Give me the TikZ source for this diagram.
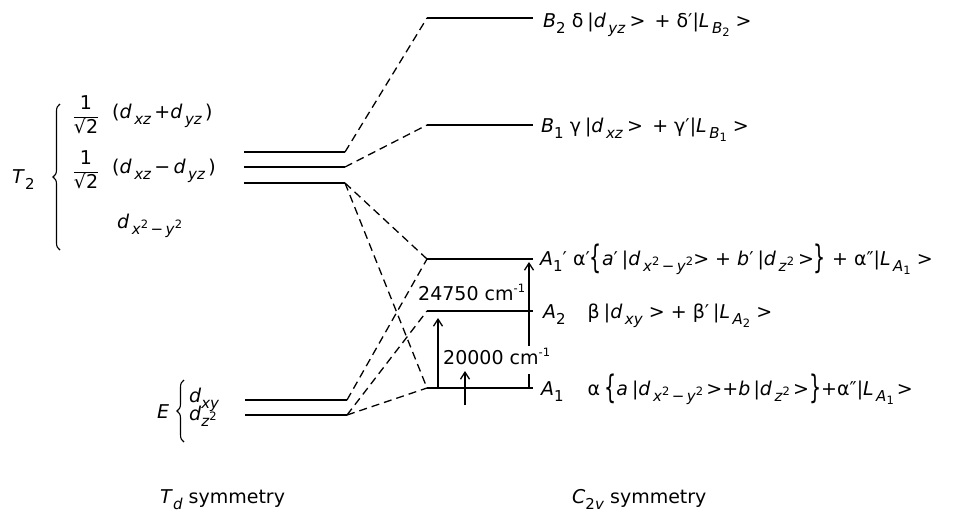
\documentclass[tikz,border=0pt]{standalone}
\usepackage{fontspec}
\setmainfont{DejaVu Sans}
\usepackage{graphicx}
\usetikzlibrary{decorations.pathreplacing,arrows.meta}
\newcommand{\lo}[1]{\raisebox{-0.6ex}{\fontsize{15}{15}\selectfont #1}}
\newcommand{\loo}[1]{\raisebox{-0.45ex}{\fontsize{11.5}{11.5}\selectfont #1}}
\newcommand{\hi}[1]{\raisebox{0.75ex}{\fontsize{11.5}{11.5}\selectfont #1}}
\newcommand{\bigbr}[1]{\raisebox{-0.3ex}{\scalebox{1}[1.7]{#1}}}
\newcommand{\frc}{$\displaystyle\frac{\mbox{1}}{\mbox{√2}}$}
\newcommand{\gp}{\hspace{4pt}}
\tikzset{
  lvl/.style={line width=1.5pt},
  cn/.style={line width=1.3pt, dash pattern=on 8pt off 5pt},
  ar/.style={line width=1.3pt, -{Straight Barb[length=7pt,width=9pt]}},
  txt/.style={font=\fontsize{19}{22}\selectfont, inner sep=0pt},
  lbl/.style={txt, anchor=base west},
  br/.style={line width=1.1pt, decorate, decoration={brace, amplitude=7pt}},
}
\begin{document}
\begin{tikzpicture}[x=1pt,y=-1pt]
\useasboundingbox (0,0) rectangle (967,517);
% T2 levels
\coordinate (t1l) at (244,152); \coordinate (t1r) at (345,152);
\coordinate (t2l) at (244,167); \coordinate (t2r) at (345,167);
\coordinate (t3l) at (244,183); \coordinate (t3r) at (345,183);
% E levels
\coordinate (e1l) at (245,400); \coordinate (e1r) at (347,400);
\coordinate (e2l) at (245,415); \coordinate (e2r) at (347,415);
% C2v levels
\coordinate (b2l) at (427,18);  \coordinate (b2r) at (533,18);
\coordinate (b1l) at (427,125); \coordinate (b1r) at (533,125);
\coordinate (apl) at (427,259); \coordinate (apr) at (533,259);
\coordinate (a2l) at (427,311); \coordinate (a2r) at (533,311);
\coordinate (a1l) at (427,388); \coordinate (a1r) at (533,388);
\foreach \a/\b in {t1l/t1r,t2l/t2r,t3l/t3r,e1l/e1r,e2l/e2r,b2l/b2r,b1l/b1r,apl/apr,a2l/a2r,a1l/a1r}
  \draw[lvl] (\a) -- (\b);
% correlation lines
\draw[cn] (t1r) -- (b2l);
\draw[cn] (t2r) -- (b1l);
\draw[cn] (t3r) -- (apl);
\draw[cn] (t3r) -- (a1l);
\draw[cn] (e1r) -- (apl);
\draw[cn] (e2r) -- (a2l);
\draw[cn] (e2r) -- (a1l);
% transitions
\coordinate (x1b) at (438,387); \coordinate (x1t) at (438,318);
\draw[ar] (x1b) -- (x1t);
\coordinate (x2b) at (465,405); \coordinate (x2t) at (465,371);
\draw[ar] (x2b) -- (x2t);
\coordinate (x3b) at (529,387); \coordinate (x3m) at (529,374);
\coordinate (x3n) at (529,346); \coordinate (x3t) at (529,262);
\draw[line width=1.3pt] (x3b) -- (x3m);
\draw[ar] (x3n) -- (x3t);
\node[lbl] (e24) at (418,300) {24750 cm\hi{-1}};
\node[lbl] (e20) at (443,364) {20000 cm\hi{-1}};
% left labels
\node[lbl] (T2) at (12,183) {\textit{T}\lo{2}};
\draw[br] (60,250) -- (60,104);
\node[txt] (f1) at (86,115) {\frc};
\node[txt] (f2) at (86,170) {\frc};
\node[lbl] (p1) at (112,118) {(\textit{d}\lo{\,\textit{xz}}\,+\textit{d}\lo{\,\textit{yz}}\,)};
\node[lbl] (p2) at (112,173) {(\textit{d}\lo{\,\textit{xz}}\,−\,\textit{d}\lo{\,\textit{yz}}\,)};
\node[lbl] (p3) at (117,228) {\textit{d}\lo{\,\textit{x}\hi{2}\,−\,\textit{y}\hi{2}}};
\node[lbl] (E) at (157,418) {\textit{E}};
\draw[br] (184,442) -- (184,380);
\node[lbl] (dxy) at (189,402) {\textit{d}\lo{\textit{xy}}};
\node[lbl] (dz) at (189,420) {\textit{d}\lo{\textit{z}\hi{2}}};
% right labels
\node[lbl] (LB2) at (543,27) {\textit{B}\lo{2} δ\gp|\textit{d}\lo{\,\textit{yz}}\gp > \,+ δ′|\textit{L}\lo{\,\textit{B}\loo{2}} >};
\node[lbl] (LB1) at (541,132) {\textit{B}\lo{1} γ\gp|\textit{d}\lo{\,\textit{xz}}\gp > \,+ γ′|\textit{L}\lo{\,\textit{B}\loo{1}} >};
\node[lbl] (LAp) at (540,265) {\textit{A}\lo{1}′ α′\bigbr{\{}\textit{a}′\gp |\textit{d}\lo{\,\textit{x}\hi{2}\,−\,\textit{y}\hi{2}}> + \textit{b}′\gp|\textit{d}\lo{\,\textit{z}\hi{2}}\gp >\bigbr{\}} + α″|\textit{L}\lo{\,\textit{A}\loo{1}} >};
\node[lbl] (LA2) at (543,318) {\textit{A}\lo{2}\hspace{22pt}β\gp|\textit{d}\lo{\,\textit{xy}} > + β′\gp|\textit{L}\lo{\,\textit{A}\loo{2}} >};
\node[lbl] (LA1) at (541,395) {\textit{A}\lo{1}\hspace{24pt}α\gp\bigbr{\{}\textit{a}\gp|\textit{d}\lo{\,\textit{x}\hi{2}\,−\,\textit{y}\hi{2}}\,>+\textit{b}\,|\textit{d}\lo{\,\textit{z}\hi{2}}\,>\bigbr{\}}+α″|\textit{L}\lo{\,\textit{A}\loo{1}}\,>};
% bottom captions
\node[lbl] (Td) at (160,503) {\textit{T}\lo{\textit{d}} symmetry};
\node[lbl] (C2v) at (572,503) {\textit{C}\lo{2\textit{v}} symmetry};
\end{tikzpicture}
\end{document}
